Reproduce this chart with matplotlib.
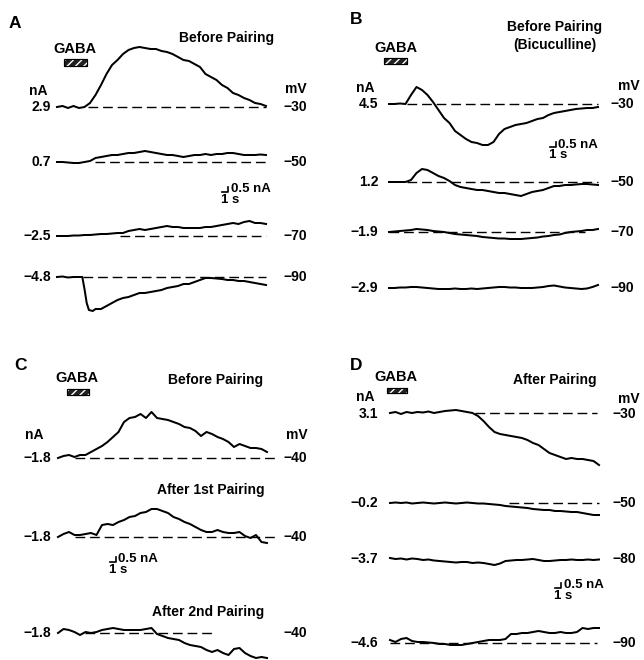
import matplotlib
matplotlib.use("Agg")
import matplotlib.pyplot as plt
from matplotlib.patches import Rectangle

plt.rcParams['font.family'] = ['Liberation Sans', 'DejaVu Sans']

# ---------------- data (time in s, current in nA relative to holding) ----------------
T_S = [0, 1, 2, 3, 4, 5, 6, 7, 8, 9, 10, 11, 12, 13, 14, 15, 16, 17, 18, 19,
       20, 21, 22, 23, 24, 25, 26, 27, 28, 29, 30, 31, 32, 33, 34, 35, 36, 37, 38]

# Panel A  (Before Pairing)
A_HOLD = ["2.9", "0.7", "\u22122.5", "\u22124.8"]
A_MV = [-30, -50, -70, -90]
A1 = [0, 0.1, -0.1, 0.1, -0.1, 0, 0.4, 1.2, 2.2, 3.3, 4.2, 4.7, 5.3, 5.7, 5.9, 6.0, 5.9, 5.8, 5.8, 5.6,
      5.5, 5.3, 5.0, 4.7, 4.6, 4.3, 4.0, 3.3, 3.0, 2.7, 2.2, 1.9, 1.4, 1.2, 0.9, 0.7, 0.4, 0.3, 0.1]
A2 = [0, 0, -0.05, -0.1, -0.1, 0, 0.1, 0.4, 0.5, 0.6, 0.7, 0.7, 0.8, 0.9, 0.9, 1.0, 1.1, 1.0, 0.9, 0.8,
      0.7, 0.7, 0.6, 0.5, 0.6, 0.7, 0.7, 0.8, 0.7, 0.8, 0.8, 0.9, 0.9, 0.8, 0.7, 0.7, 0.7, 0.75, 0.7]
A3 = [0, 0, 0, 0.05, 0.05, 0.1, 0.1, 0.15, 0.2, 0.2, 0.25, 0.3, 0.3, 0.5, 0.6, 0.7, 0.6, 0.7, 0.8, 0.9,
      1.0, 0.9, 0.9, 0.8, 0.8, 0.8, 0.8, 0.9, 0.9, 1.0, 1.1, 1.2, 1.3, 1.2, 1.4, 1.5, 1.3, 1.3, 1.2]
A4_T = [0, 1, 2, 3, 4, 4.6, 5.0, 5.4, 5.8, 6.5, 7, 8, 9, 10, 11, 12, 13, 14, 15, 16, 17, 18, 19,
        20, 21, 22, 23, 24, 25, 26, 27, 28, 29, 30, 31, 32, 33, 34, 35, 36, 37, 38]
A4 = [0, 0.05, -0.05, 0, 0, 0, -1.2, -2.6, -3.3, -3.4, -3.2, -3.2, -2.9, -2.6, -2.3, -2.1, -2.0, -1.8,
      -1.6, -1.6, -1.5, -1.4, -1.3, -1.1, -1.0, -0.9, -0.7, -0.7, -0.5, -0.3, -0.1, -0.1, -0.15, -0.2,
      -0.3, -0.3, -0.4, -0.4, -0.5, -0.6, -0.7, -0.8]
A_DASH = [(5.6, 38), (6.9, 38), (11.5, 38), (4.7, 38)]

# Panel B  (Before Pairing, Bicuculline)
B_HOLD = ["4.5", "1.2", "\u22121.9", "\u22122.9"]
B_MV = [-30, -50, -70, -90]
B1 = [0, 0, 0.05, 0, 0.9, 1.7, 1.4, 0.9, 0.2, -0.6, -1.4, -1.9, -2.7, -3.1, -3.5, -3.8, -3.9, -4.1, -4.1,
      -3.8, -3.0, -2.5, -2.3, -2.1, -2.0, -1.9, -1.7, -1.5, -1.4, -1.1, -0.9, -0.8, -0.7, -0.6, -0.5,
      -0.45, -0.4, -0.4, -0.3]
B2 = [0, 0, 0, 0, 0.2, 0.9, 1.3, 1.2, 0.9, 0.6, 0.4, 0.1, -0.3, -0.5, -0.6, -0.7, -0.8, -0.8, -0.9, -1.0,
      -1.1, -1.1, -1.2, -1.3, -1.4, -1.2, -1.0, -0.9, -0.8, -0.6, -0.4, -0.4, -0.3, -0.3, -0.25, -0.2,
      -0.2, -0.25, -0.3]
B3 = [0, 0.05, 0.1, 0.15, 0.2, 0.3, 0.25, 0.2, 0.1, 0.05, 0, -0.1, -0.2, -0.25, -0.3, -0.35, -0.4, -0.5,
      -0.55, -0.6, -0.65, -0.65, -0.7, -0.7, -0.7, -0.65, -0.6, -0.55, -0.45, -0.4, -0.3, -0.25, -0.1,
      0, 0.05, 0.1, 0.2, 0.2, 0.3]
B4 = [0, 0, 0.05, 0.05, 0.1, 0.1, 0.05, 0, -0.05, -0.1, -0.1, -0.1, -0.05, -0.1, -0.1, -0.05, -0.1,
      -0.05, 0, 0.05, 0.1, 0.1, 0.05, 0.05, 0, 0, 0, 0.05, 0.1, 0.2, 0.25, 0.15, 0.05, 0, -0.05, -0.1,
      -0.05, 0.1, 0.3]
B_DASH = [(3.3, 38), (3.3, 38), (0, 35.6), None]

# Panel C  (Before / After 1st / After 2nd Pairing)
C_HOLD = ["\u22121.8", "\u22121.8", "\u22121.8"]
C_MV = [-40, -40, -40]
C_TITLES = ["Before Pairing", "After 1st Pairing", "After 2nd Pairing"]
C1 = [0, 0.2, 0.3, 0.1, 0.3, 0.3, 0.6, 0.9, 1.2, 1.6, 2.1, 2.6, 3.6, 4.0, 4.1, 4.4, 4.0, 4.6, 4.0, 3.9,
      3.8, 3.6, 3.4, 3.1, 3.0, 2.7, 2.2, 2.6, 2.4, 2.1, 1.9, 1.6, 1.1, 1.4, 1.2, 1.0, 1.0, 0.9, 0.6]
C2 = [0, 0.3, 0.5, 0.2, 0.2, 0.3, 0.4, 0.2, 1.2, 1.3, 1.2, 1.5, 1.7, 2.0, 2.1, 2.4, 2.5, 2.8, 2.8, 2.6,
      2.4, 2.0, 1.8, 1.5, 1.3, 1.0, 0.7, 0.5, 0.5, 0.7, 0.5, 0.4, 0.4, 0.5, 0.1, -0.1, 0.2, -0.5, -0.6]
C3 = [0, 0.4, 0.3, 0.1, -0.2, 0.1, 0.0, 0.1, 0.3, 0.4, 0.5, 0.4, 0.3, 0.3, 0.3, 0.3, 0.4, 0.5, -0.1,
      -0.3, -0.5, -0.6, -0.7, -1.0, -1.2, -1.3, -1.4, -1.7, -1.9, -1.7, -2.0, -2.2, -1.6, -1.5, -2.0,
      -2.3, -2.5, -2.4, -2.5]
C_DASH = [(3.1, 39.5), (3.1, 39.5), (4.9, 28.5)]

# Panel D  (After Pairing)
D_HOLD = ["3.1", "\u22120.2", "\u22123.7", "\u22124.6"]
D_MV = [-30, -50, -80, -90]
D1 = [0, 0.1, -0.1, 0.1, 0, 0.1, 0.05, 0.15, 0, 0.1, 0.2, 0.25, 0.3, 0.2, 0.1, 0, -0.3, -0.8, -1.4,
      -1.9, -2.1, -2.2, -2.3, -2.4, -2.5, -2.7, -3.0, -3.2, -3.6, -4.0, -4.2, -4.4, -4.6, -4.5, -4.6,
      -4.6, -4.7, -4.8, -5.2]
D2 = [0, 0.05, 0, 0.05, -0.05, 0, 0.05, 0, -0.05, 0, 0.05, 0, -0.05, 0, 0.05, 0, -0.05, -0.05, -0.1,
      -0.15, -0.2, -0.3, -0.35, -0.4, -0.45, -0.5, -0.6, -0.65, -0.7, -0.7, -0.8, -0.8, -0.85, -0.9,
      -0.9, -1.0, -1.1, -1.2, -1.2]
D3 = [0.1, 0, 0.05, -0.05, 0.05, 0, -0.1, -0.05, -0.15, -0.2, -0.25, -0.3, -0.35, -0.3, -0.3, -0.4,
      -0.35, -0.4, -0.5, -0.6, -0.45, -0.2, -0.15, -0.1, -0.1, -0.05, 0, -0.1, -0.2, -0.2, -0.15, -0.1,
      -0.1, -0.05, -0.1, -0.1, -0.05, -0.1, -0.05]
D4 = [0.3, 0.1, 0.4, 0.5, 0.2, 0.1, 0.1, 0.05, 0, -0.1, -0.1, -0.2, -0.2, -0.2, -0.1, 0, 0.1, 0.2, 0.3,
      0.3, 0.3, 0.4, 0.9, 0.9, 1.0, 1.0, 1.1, 1.2, 1.1, 1.0, 1.0, 1.1, 1.0, 1.0, 1.1, 1.5, 1.4, 1.5, 1.5]
D_DASH = [(15.5, 37.6), (21.6, 38), None, (0, 37.6)]

SCALE_T = 1.0    # s
SCALE_I = 0.5    # nA

# ---------------- layout (pixels of the 644x660 canvas) ----------------
PX_S = 5.5      # pixels per second
PX_NA = 10.0    # pixels per nA


def X(px):
    return px / PX_S


def Y(py):
    return -py / PX_NA


fig = plt.figure(figsize=(6.44, 6.60), dpi=100)
ax = fig.add_axes([0, 0, 1, 1])
ax.set_xlim(0, 644 / PX_S)
ax.set_ylim(-660 / PX_NA, 0)
ax.axis('off')

BOLD = dict(fontweight='bold', color='black')
LBL = 10


def trace(x0px, basepx, t, vals, dash):
    tt = [X(x0px) + v for v in t]
    yy = [Y(basepx) + v for v in vals]
    if dash is not None:
        ax.plot([X(x0px) + dash[0], X(x0px) + dash[1]], [Y(basepx)] * 2,
                color='black', lw=1.0, dashes=(7, 3.5))
    ax.plot(tt, yy, color='black', lw=1.45, solid_joinstyle='round')


def side_labels(leftx, rightx, basepx, hold, mv):
    ax.text(X(leftx), Y(basepx), hold, ha='right', va='center', fontsize=LBL, **BOLD)
    ax.text(X(rightx), Y(basepx), "\u2212%d" % abs(mv), ha='left', va='center',
            fontsize=LBL, **BOLD)


def gaba(cx, ty, bx0, bx1, by0, by1):
    ax.text(X(cx), Y(ty), "GABA", ha='center', va='center', fontsize=10.5,
            fontweight='bold')
    ax.add_patch(Rectangle((X(bx0), Y(by1)), X(bx1) - X(bx0), Y(by0) - Y(by1),
                           facecolor='#222222', edgecolor='black', lw=0.8))
    ax.add_patch(Rectangle((X(bx0), Y(by1)), X(bx1) - X(bx0), Y(by0) - Y(by1),
                           facecolor='none', edgecolor='white', lw=0, hatch='////'))
    ax.add_patch(Rectangle((X(bx0), Y(by1)), X(bx1) - X(bx0), Y(by0) - Y(by1),
                           facecolor='none', edgecolor='black', lw=0.8))


def scalebar(xpx, ypx):
    x = X(xpx)
    y = Y(ypx)
    ax.plot([x, x + SCALE_T, x + SCALE_T], [y, y, y + SCALE_I], color='black', lw=1.2)
    ax.text(x + SCALE_T + X(3), y + SCALE_I / 2, "%.1f nA" % SCALE_I, ha='left',
            va='center', fontsize=9.5, **BOLD)
    ax.text(x - X(1), y - Y(-2), "%d s" % SCALE_T, ha='left', va='top', fontsize=9.5, **BOLD)


def letter(xpx, ypx, s):
    ax.text(X(xpx), Y(ypx), s, ha='left', va='center', fontsize=12.5, **BOLD)


# Panel A
letter(9, 24, "A")
gaba(75, 49, 64, 87, 59, 66)
ax.text(X(227), Y(38), "Before Pairing", ha='center', va='center', fontsize=LBL, **BOLD)
ax.text(X(38), Y(91), "nA", ha='center', va='center', fontsize=LBL, **BOLD)
ax.text(X(296), Y(89), "mV", ha='center', va='center', fontsize=LBL, **BOLD)
A_BASE = [107, 162, 236, 277]
for base, vals, hold, mv, dash, tt in zip(A_BASE, [A1, A2, A3, A4], A_HOLD, A_MV, A_DASH,
                                          [T_S, T_S, T_S, A4_T]):
    trace(57, base, tt, vals, dash)
    side_labels(51, 283, base, hold, mv)
scalebar(222, 192)

# Panel B
letter(350, 19, "B")
gaba(396, 48, 384, 407, 58, 64)
ax.text(X(555), Y(27), "Before Pairing", ha='center', va='center', fontsize=LBL, **BOLD)
ax.text(X(555), Y(45), "(Bicuculline)", ha='center', va='center', fontsize=LBL, **BOLD)
ax.text(X(365), Y(88), "nA", ha='center', va='center', fontsize=LBL, **BOLD)
ax.text(X(629), Y(86), "mV", ha='center', va='center', fontsize=LBL, **BOLD)
B_BASE = [104, 182, 232, 288]
for base, vals, hold, mv, dash in zip(B_BASE, [B1, B2, B3, B4], B_HOLD, B_MV, B_DASH):
    trace(389, base, T_S, vals, dash)
    side_labels(378, 610, base, hold, mv)
scalebar(550, 147)

# Panel C
letter(14, 365, "C")
gaba(77, 378, 67, 89, 389, 395)
ax.text(X(34), Y(435), "nA", ha='center', va='center', fontsize=LBL, **BOLD)
ax.text(X(297), Y(435), "mV", ha='center', va='center', fontsize=LBL, **BOLD)
C_BASE = [458, 537, 633]
C_TITLE_Y = [380, 490, 612]
C_TITLE_X = [216, 211, 208]
for base, vals, hold, mv, dash, title, tx, ty in zip(C_BASE, [C1, C2, C3], C_HOLD, C_MV, C_DASH,
                                                    C_TITLES, C_TITLE_X, C_TITLE_Y):
    trace(58, base, T_S, vals, dash)
    side_labels(51, 283, base, hold, mv)
    ax.text(X(tx), Y(ty), title, ha='center', va='center', fontsize=LBL, **BOLD)
scalebar(110, 562)

# Panel D
letter(350, 365, "D")
gaba(396, 377, 387, 407, 388, 393)
ax.text(X(555), Y(380), "After Pairing", ha='center', va='center', fontsize=LBL, **BOLD)
ax.text(X(365), Y(397), "nA", ha='center', va='center', fontsize=LBL, **BOLD)
ax.text(X(629), Y(399), "mV", ha='center', va='center', fontsize=LBL, **BOLD)
D_BASE = [413, 503, 559, 643]
for base, vals, hold, mv, dash in zip(D_BASE, [D1, D2, D3, D4], D_HOLD, D_MV, D_DASH):
    trace(390, base, T_S, vals, dash)
    side_labels(378, 612, base if base != 413 else 414, hold, mv)
scalebar(555, 588)

fig.savefig("out.png", dpi=100, facecolor='white')
